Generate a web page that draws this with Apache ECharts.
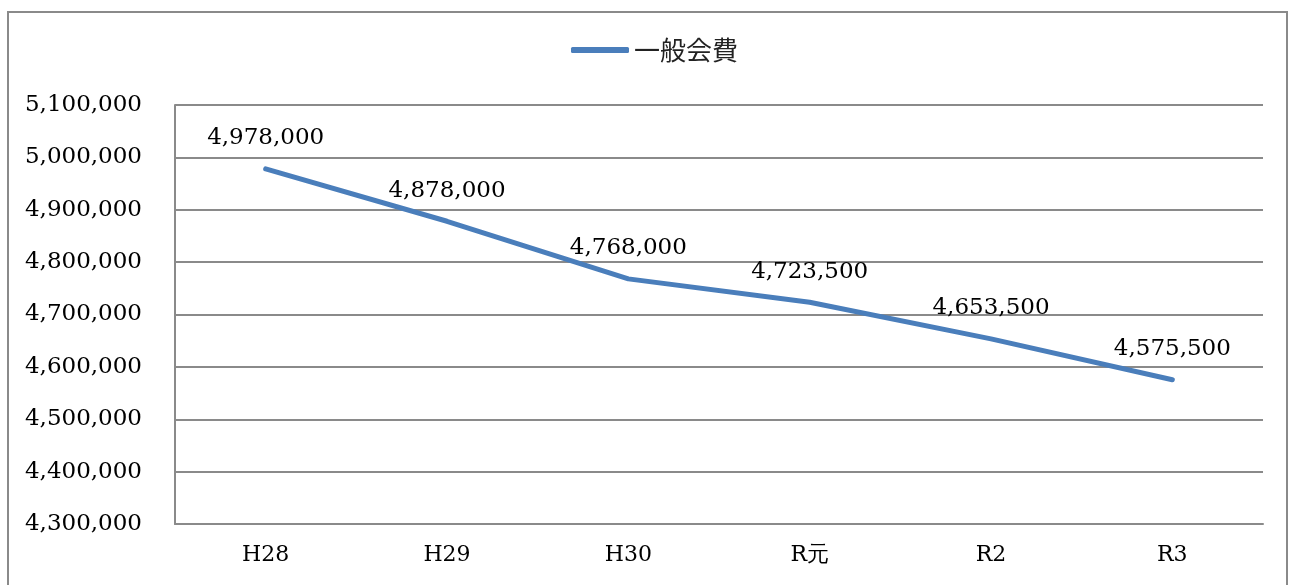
<!DOCTYPE html>
<html>
<head>
<meta charset="utf-8">
<script src="https://cdn.jsdelivr.net/npm/echarts@6/dist/echarts.min.js"></script>
<style>
  html, body { margin: 0; padding: 0; background: #fff; }
  #graphs { width: 1294px; height: 585px; }
</style>
</head>
<body>
<div id="graphs"></div>
<script>
// data
var years = ['H28', 'H29', 'H30', 'R元', 'R2', 'R3'];
var fees = [4978000, 4878000, 4768000, 4723500, 4653500, 4575500];
var seriesName = '一般会費';
var yMin = 4300000, yMax = 5100000, yStep = 100000;

var myChart = echarts.init(document.getElementById('graphs'));

function fmt(v) {
    return v.toLocaleString('en-US');
}

var serif = 'DejaVu Serif';
var blue = '#4a7ebb';

var option = {
    animation: false,
    graphic: [{
        type: 'rect',
        shape: {x: 8, y: 12, width: 1279, height: 600},
        style: {fill: 'none', stroke: '#8a8a8a', lineWidth: 2}
    }],
    legend: {
        data: [{name: seriesName, icon: 'roundRect', itemStyle: {color: blue, opacity: 1, borderWidth: 0}}],
        top: 32,
        left: 566,
        itemWidth: 58,
        itemHeight: 6,
        itemGap: 4,
        textStyle: {fontFamily: 'Noto Sans CJK JP', fontSize: 26, color: '#222'}
    },
    grid: {left: 175, right: 31, top: 105, bottom: 61},
    xAxis: {
        type: 'category',
        data: years,
        boundaryGap: true,
        axisLine: {lineStyle: {color: '#8a8a8a', width: 2}},
        axisTick: {show: false},
        axisLabel: {fontFamily: serif, fontSize: 22, color: '#000', margin: 20}
    },
    yAxis: {
        type: 'value',
        min: yMin,
        max: yMax,
        interval: yStep,
        axisLine: {show: true, lineStyle: {color: '#8a8a8a', width: 2}},
        axisTick: {show: false},
        splitLine: {lineStyle: {color: '#8a8a8a', width: 2}},
        axisLabel: {fontFamily: serif, fontSize: 23, color: '#000', margin: 33, formatter: fmt}
    },
    series: [{
        name: seriesName,
        type: 'line',
        data: fees,
        showSymbol: true,
        symbol: 'circle',
        symbolSize: 2,
        lineStyle: {color: blue, width: 5, cap: 'round'},
        itemStyle: {color: 'rgba(0,0,0,0)', borderWidth: 0},
        label: {
            show: true,
            position: 'top',
            distance: 18,
            fontFamily: serif,
            fontSize: 23,
            color: '#000',
            formatter: function (p) { return fmt(p.value); }
        }
    }]
};

myChart.setOption(option);
</script>
</body>
</html>
